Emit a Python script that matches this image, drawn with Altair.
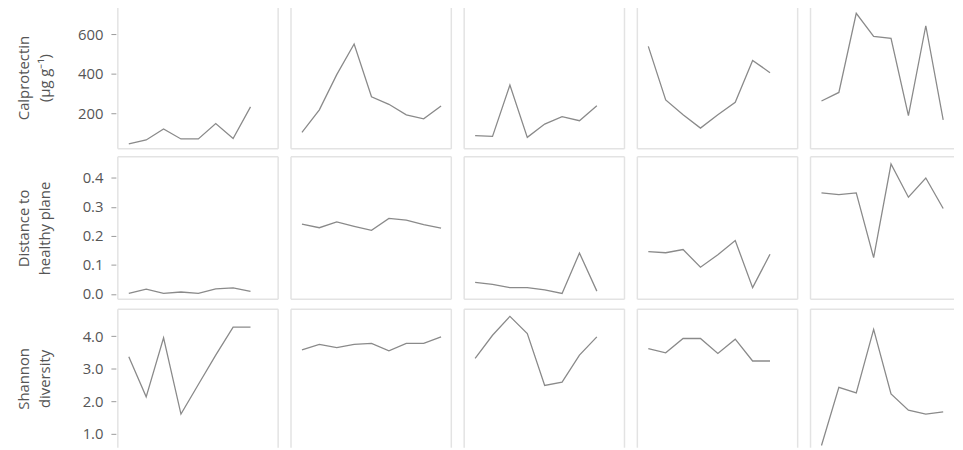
import altair as alt
import pandas as pd

# ---- data ----
row_names = ["calprotectin", "distance", "shannon"]
row_titles = [["Calprotectin", "(µg g⁻¹)"], ["Distance to", "healthy plane"], ["Shannon", "diversity"]]

calpro_1 = [45, 65, 120, 70, 70, 148, 72, 232]
calpro_2 = [103, 217, 395, 550, 283, 245, 192, 172, 237]
calpro_3 = [87, 83, 342, 78, 145, 183, 162, 238]
calpro_4 = [538, 267, 192, 125, 192, 255, 467, 405]
calpro_5 = [262, 305, 705, 588, 578, 188, 642, 167]

dist_1 = [0.002, 0.017, 0.002, 0.007, 0.002, 0.018, 0.021, 0.009]
dist_2 = [0.240, 0.228, 0.248, 0.233, 0.219, 0.260, 0.254, 0.239, 0.227]
dist_3 = [0.040, 0.033, 0.022, 0.022, 0.014, 0.002, 0.141, 0.010]
dist_4 = [0.146, 0.142, 0.153, 0.092, 0.135, 0.184, 0.022, 0.137]
dist_5 = [0.348, 0.342, 0.348, 0.125, 0.447, 0.333, 0.399, 0.294]

shannon_1 = [3.37, 2.14, 3.95, 1.61, 2.52, 3.42, 4.28, 4.28]
shannon_2 = [3.58, 3.75, 3.65, 3.75, 3.78, 3.55, 3.78, 3.78, 3.98]
shannon_3 = [3.32, 4.03, 4.61, 4.08, 2.49, 2.59, 3.42, 3.98]
shannon_4 = [3.62, 3.49, 3.93, 3.93, 3.47, 3.91, 3.24, 3.24]
shannon_5 = [0.65, 2.43, 2.26, 4.21, 2.23, 1.73, 1.61, 1.68]

series = {
    "calprotectin": [calpro_1, calpro_2, calpro_3, calpro_4, calpro_5],
    "distance": [dist_1, dist_2, dist_3, dist_4, dist_5],
    "shannon": [shannon_1, shannon_2, shannon_3, shannon_4, shannon_5],
}

# row heights: last row is cut by the window edge, as in the reference
row_heights = [144, 144, 140]
y_domains = {
    "calprotectin": [20, 740],
    "distance": [-0.018, 0.472],
    "shannon": [0.581, 4.83],
}
y_ticks = {
    "calprotectin": [200, 400, 600],
    "distance": [0.0, 0.1, 0.2, 0.3, 0.4],
    "shannon": [1.0, 2.0, 3.0, 4.0],
}
y_formats = {"calprotectin": "d", "distance": ".1f", "shannon": ".1f"}

records = []
for r in row_names:
    for ci, vals in enumerate(series[r]):
        for ti, v in enumerate(vals):
            records.append({"row": r, "col": ci, "t": ti + 1, "value": v})
df = pd.DataFrame(records)

W = 162
PX_PER_T = W / (9.59 - 0.37)
col_widths = [W, W, W, W, 145]  # last column is cut by the window edge
BORDER = "#e3e3e3"
one = alt.Data(values=[{"k": 0}])


def edge(x, x2, y, y2):
    return (
        alt.Chart(one)
        .mark_rule(color=BORDER, strokeWidth=1.5)
        .encode(x=alt.value(x), x2=alt.value(x2), y=alt.value(y), y2=alt.value(y2))
    )


rows = []
for ri, r in enumerate(row_names):
    h = row_heights[ri]
    panels = []
    for ci in range(5):
        w = col_widths[ci]
        if ci == 0:
            axis = alt.Axis(
                values=y_ticks[r], format=y_formats[r], grid=False, domain=False,
                ticks=True, tickSize=5, offset=2, labelPadding=8,
                minExtent=44, maxExtent=44, titlePadding=20,
                title=row_titles[ri],
                labelFont="Open Sans", labelFontSize=15, labelColor="#555555",
                titleFont="Open Sans", titleFontSize=15, titleFontWeight="normal",
                titleColor="#555555", tickColor="#9a9a9a", titleLineHeight=21,
            )
        else:
            axis = None
        x_end = 0.37 + w / PX_PER_T
        line = (
            alt.Chart(df)
            .transform_filter((alt.datum.row == r) & (alt.datum.col == ci))
            .mark_line(color="#8a8a8a", strokeWidth=1.3, clip=True)
            .encode(
                x=alt.X("t:Q", scale=alt.Scale(domain=[0.37, x_end], nice=False, zero=False), axis=None),
                y=alt.Y("value:Q", scale=alt.Scale(domain=y_domains[r], nice=False, zero=False), axis=axis),
            )
        )
        layers = [line, edge(0, w, 0, 0), edge(0, 0, 0, h)]
        if ci < 4:
            layers.append(edge(w, w, 0, h))
        if ri < 2:
            layers.append(edge(0, w, h, h))
        panels.append(alt.layer(*layers).properties(width=w, height=h))
    rows.append(alt.hconcat(*panels, spacing=11))

chart = (
    alt.vconcat(*rows, spacing=6)
    .properties(padding={"left": 9, "top": -5, "right": 0, "bottom": 0}, background="white")
    .configure_view(stroke=None, fill="white")
)

chart.save("out.html", embed_options={"renderer": "svg", "actions": False})
